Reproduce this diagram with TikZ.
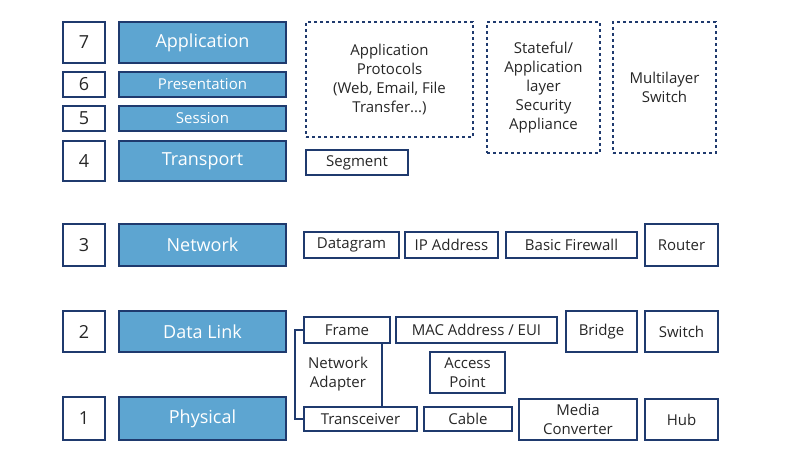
\documentclass[tikz,border=0pt]{standalone}
\usepackage{fontspec}
\setmainfont{Open Sans}
\usetikzlibrary{positioning}
\definecolor{navy}{HTML}{1F3A6E}
\definecolor{layblue}{HTML}{5DA5D1}
\tikzset{
  box/.style={draw=navy, line width=1.8pt, inner sep=0pt, align=center, text=black!85, font=\fontsize{15}{19}\selectfont},
  num/.style={box, font=\fontsize{18}{19}\selectfont},
  layer/.style={box, fill=layblue, text=white, font=\fontsize{18}{19}\selectfont},
  dbox/.style={box, dashed}
}
\begin{document}
\begin{tikzpicture}[x=1pt,y=-1pt]
\useasboundingbox (0,0) rectangle (800,460);
\node[num, minimum width=42, minimum height=41] (n7) at (84,42.5) {7};
\node[num, minimum width=42, minimum height=25] (n6) at (84,84.5) {6};
\node[num, minimum width=42, minimum height=25] (n5) at (84,118.5) {5};
\node[num, minimum width=42, minimum height=40] (n4) at (84,161) {4};
\node[num, minimum width=42, minimum height=42] (n3) at (84,245) {3};
\node[num, minimum width=42, minimum height=41] (n2) at (84,331.5) {2};
\node[num, minimum width=42, minimum height=43] (n1) at (84,418.5) {1};
\node[layer, minimum width=167, minimum height=41] (l7) at (202.5,42.5) {Application};
\node[layer, minimum width=167, minimum height=25, font=\fontsize{15}{16}\selectfont] (l6) at (202.5,84.5) {Presentation};
\node[layer, minimum width=167, minimum height=25, font=\fontsize{15}{16}\selectfont] (l5) at (202.5,118.5) {Session};
\node[layer, minimum width=167, minimum height=40] (l4) at (202.5,161) {Transport};
\node[layer, minimum width=167, minimum height=42] (l3) at (202.5,245) {Network};
\node[layer, minimum width=167, minimum height=41] (l2) at (202.5,331.5) {Data Link};
\node[layer, minimum width=167, minimum height=43] (l1) at (202.5,418.5) {Physical};
% upper layers
\node[dbox, minimum width=167, minimum height=115] (proto) at (389.5,79.5) {Application\\Protocols\\(Web, Email, File\\Transfer...)};
\node[dbox, minimum width=113, minimum height=131] (stateful) at (543.5,87.5) {Stateful/\\Application\\layer\\Security\\Appliance};
\node[dbox, minimum width=103, minimum height=131] (mls) at (664.5,87.5) {Multilayer\\Switch};
\node[box, minimum width=102, minimum height=25] (seg) at (357,162.5) {Segment};
% network
\node[box, minimum width=95, minimum height=26] (dgram) at (351.5,245) {Datagram};
\node[box, minimum width=93, minimum height=26] (ip) at (451.5,245) {IP Address};
\node[box, minimum width=131, minimum height=26] (fw) at (571.5,245) {Basic Firewall};
\node[box, minimum width=73, minimum height=42] (router) at (681.5,245) {Router};
% data link
\node[box, minimum width=86, minimum height=26] (frame) at (347,330) {Frame};
\node[box, minimum width=161, minimum height=26] (mac) at (476.5,330) {MAC Address / EUI};
\node[box, minimum width=71, minimum height=41] (bridge) at (601.5,331.5) {Bridge};
\node[box, minimum width=73, minimum height=41] (switch) at (681.5,331.5) {Switch};
\node[box, minimum width=75, minimum height=41] (ap) at (467.5,372.5) {Access\\Point};
% physical
\node[box, minimum width=113, minimum height=24] (trx) at (360.5,419) {Transceiver};
\node[box, minimum width=88, minimum height=24] (cable) at (468,419) {Cable};
\node[box, minimum width=118, minimum height=41] (media) at (578,419.5) {Media\\Converter};
\node[box, minimum width=73, minimum height=41] (hub) at (681.5,419.5) {Hub};
% network adapter
\node[align=center, text=black!85, font=\fontsize{15}{19}\selectfont] (nic) at (338,374) {Network\\Adapter};
\draw[navy, line width=1.8pt] (frame.west) -- ++(-8,0) |- (trx.west);
\draw[navy, line width=1.8pt] ([xshift=-9pt]frame.south east) -- ([xshift=-9pt]frame.south east |- trx.north);
\end{tikzpicture}
\end{document}
